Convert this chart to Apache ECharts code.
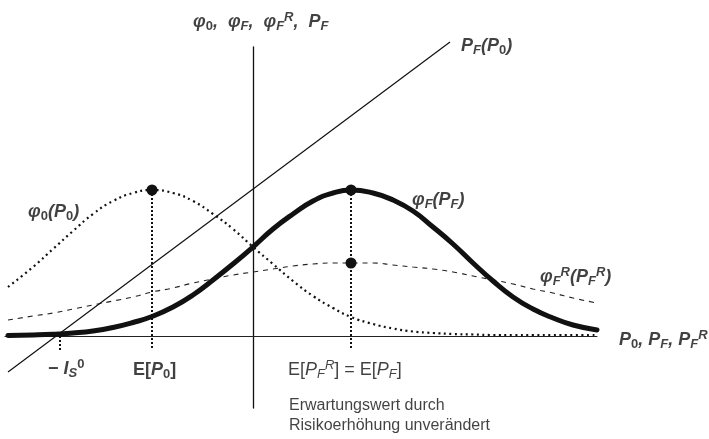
<!DOCTYPE html>
<html>
<head>
<meta charset="utf-8">
<script src="https://cdn.jsdelivr.net/npm/echarts@6/dist/echarts.min.js"></script>
<style>html,body{margin:0;padding:0;background:#fff}#c{width:709px;height:439px}</style>
</head>
<body>
<div id="c"></div>
<script>
// ---- data (abstract units: price on x, density on y) ----
const xs      = [-24.5, -22, -20, -18, -16, -14, -12, -10.1, -8, -6, -4, -2, 0, 2, 4, 6, 8, 9.8, 12, 14, 16, 18, 20, 22, 24, 26, 28, 30, 32, 34.4];
const phi0    = [4.9, 6.9, 8.7, 10.5, 12.2, 13.5, 14.3, 14.6, 14.3, 13.5, 12.2, 10.7, 8.9, 7.2, 5.5, 4.0, 2.8, 1.9, 1.2, 0.75, 0.45, 0.3, 0.2, 0.15, 0.1, 0.1, 0.1, 0.1, 0.1, 0.1];
const phiF    = [0.05, 0.1, 0.17, 0.3, 0.5, 0.85, 1.35, 1.95, 2.9, 4.1, 5.6, 7.2, 8.9, 10.7, 12.2, 13.5, 14.3, 14.6, 14.3, 13.6, 12.5, 10.9, 9.2, 7.3, 5.5, 3.9, 2.7, 1.8, 1.1, 0.6];
const phiFR   = [1.6, 2.0, 2.3, 2.7, 3.1, 3.5, 3.9, 4.4, 4.8, 5.3, 5.7, 6.1, 6.4, 6.7, 7.0, 7.2, 7.3, 7.3, 7.3, 7.1, 6.9, 6.7, 6.4, 6.0, 5.6, 5.2, 4.7, 4.3, 3.8, 3.3];
const lineX   = [-24.5, 19.7];          // P_F(P_0) straight line
const lineY   = [-3.6, 29.4];
const meanP0  = -10.1;                  // E[P0]
const meanPF  = 9.8;                    // E[PF] = E[PF^R]
const peakPhi = 14.6;                   // peak of phi0 and phiF
const peakPhiR = 7.3;                   // peak of phiF^R
const minusIs0 = -19.3;                 // -I_S^0
const dropBottom = -1.4;                // lower end of the dotted guides
const xRange  = [-24.8, 34.4];
const yRange  = [-7.2, 28.9];

// annotation texts (rich text) and their anchors (data units)
const annText = [
  '{n|φ}{s0|0}{n|,  φ}{s|F}{n|,  φ}{s|F}{u|R}{n|,  P}{s|F}',
  '{n|P}{s|F}{n|(P}{s0|0}{n|)}',
  '{n|φ}{s0|0}{n|(P}{s0|0}{n|)}',
  '{n|φ}{s|F}{n|(P}{s|F}{n|)}',
  '{n|φ}{s|F}{u|R}{n|(P}{s|F}{u|R}{n|)}',
  '{n|P}{s0|0}{n|, P}{s|F}{n|, P}{s|F}{u|R}',
  '{rb|− }{n|I}{s|S}{u0|0}',
  '{rb|E[}{n|P}{s0|0}{rb|]}',
  '{r|E[}{ni|P}{sn|F}{un|R}{r|] = E[}{ni|P}{sn|F}{r|]}',
  '{t|Erwartungswert durch}\n{t|Risikoerhöhung unverändert}'
];
const annX = [-6.0, 20.8, -22.5, 15.9, 28.7, 36.6, -20.5, -12.0, 3.5, 3.6];
const annY = [31.4, 29.0, 12.4, 13.6, 5.9, -0.4, -3.3, -3.4, -3.4, -8.0];

// ---- chart ----
const FONT = '"Liberation Sans", Arial, sans-serif';
const C = '#111';
const rich = {
  n:  {fontFamily: FONT, fontSize: 18, fontStyle: 'italic', fontWeight: 'bold', lineHeight: 22, color: C},
  ni: {fontFamily: FONT, fontSize: 18, fontStyle: 'italic', lineHeight: 22, color: C},
  r:  {fontFamily: FONT, fontSize: 18, lineHeight: 22, color: C},
  rb: {fontFamily: FONT, fontSize: 18, fontWeight: 'bold', lineHeight: 22, color: C},
  t:  {fontFamily: FONT, fontSize: 16, lineHeight: 20, color: C},
  s:  {fontFamily: FONT, fontSize: 13, fontStyle: 'italic', fontWeight: 'bold', lineHeight: 13, verticalAlign: 'bottom', color: C},
  sn: {fontFamily: FONT, fontSize: 13, fontStyle: 'italic', lineHeight: 13, verticalAlign: 'bottom', color: C},
  s0: {fontFamily: FONT, fontSize: 13, fontWeight: 'bold', lineHeight: 13, verticalAlign: 'bottom', color: C},
  u:  {fontFamily: FONT, fontSize: 13, fontStyle: 'italic', fontWeight: 'bold', lineHeight: 13, verticalAlign: 'top', color: C},
  un: {fontFamily: FONT, fontSize: 13, fontStyle: 'italic', lineHeight: 13, verticalAlign: 'top', color: C},
  u0: {fontFamily: FONT, fontSize: 13, fontWeight: 'bold', lineHeight: 13, verticalAlign: 'top', color: C}
};

const pair = (ys) => xs.map((x, i) => [x, ys[i]]);
const guide = (x, top) => ({
  type: 'line', data: [[x, top], [x, dropBottom]], showSymbol: false, silent: true, clip: false,
  lineStyle: {color: C, width: 2, type: [2, 2]}, z: 3
});

const chart = echarts.init(document.getElementById('c'), null, {renderer: 'canvas'});
chart.setOption({
  animation: false,
  backgroundColor: '#fff',
  grid: {left: 5, right: 112, top: 47, bottom: 31, containLabel: false},
  xAxis: {
    type: 'value', min: xRange[0], max: xRange[1],
    axisLine: {show: true, onZero: true, lineStyle: {color: '#222', width: 1}},
    axisTick: {show: false}, axisLabel: {show: false}, splitLine: {show: false}
  },
  yAxis: {
    type: 'value', min: yRange[0], max: yRange[1],
    axisLine: {show: true, onZero: true, lineStyle: {color: C, width: 1.3}},
    axisTick: {show: false}, axisLabel: {show: false}, splitLine: {show: false}
  },
  series: [
    {type: 'line', name: 'phiFR', data: pair(phiFR), smooth: true, showSymbol: false, clip: false,
     lineStyle: {color: '#222', width: 1.1, type: [5, 5]}, z: 2},
    {type: 'line', name: 'phi0', data: pair(phi0), smooth: true, showSymbol: false, clip: false,
     lineStyle: {color: C, width: 2.2, type: [2, 3.5]}, z: 2},
    {type: 'line', name: 'PF(P0)', data: [[lineX[0], lineY[0]], [lineX[1], lineY[1]]], showSymbol: false, clip: false,
     lineStyle: {color: C, width: 1.2}, z: 2},
    guide(meanP0, peakPhi),
    guide(meanPF, peakPhi),
    guide(minusIs0, 0),
    {type: 'line', name: 'phiF', data: pair(phiF), smooth: true, showSymbol: false, clip: false,
     lineStyle: {color: C, width: 5, cap: 'round'}, z: 4},
    {type: 'scatter', name: 'points', data: [[meanP0, peakPhi], [meanPF, peakPhi], [meanPF, peakPhiR]],
     symbolSize: 11, itemStyle: {color: C, opacity: 1}, z: 5, clip: false},
    {type: 'scatter', name: 'labels', symbolSize: 0, clip: false, silent: true, z: 6,
     data: annX.map((x, i) => ({value: [x, annY[i]], label: {formatter: annText[i]}})),
     label: {show: true, position: 'right', distance: 0, align: 'left', verticalAlign: 'middle', rich: rich}}
  ]
});
</script>
</body>
</html>
